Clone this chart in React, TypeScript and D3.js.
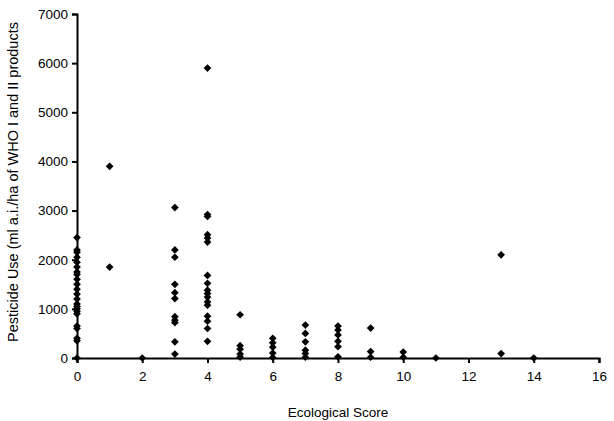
import { useEffect, useRef } from "react";
import * as d3 from "d3";

// ecological score per point, and pesticide use (ml a.i./ha)
const scoreCol0 = [2450, 2200, 2150, 2050, 1950, 1850, 1750, 1700, 1600, 1500, 1400, 1300, 1200, 1100, 1050, 1000, 950, 900, 650, 600, 400, 350, 0];
const scoreCol1 = [3900, 1850];
const scoreCol2 = [0];
const scoreCol3 = [3060, 2200, 2050, 1500, 1330, 1210, 840, 770, 720, 330, 80];
const scoreCol4 = [5900, 2920, 2880, 2510, 2440, 2360, 1680, 1520, 1380, 1310, 1240, 1140, 1075, 850, 750, 600, 340];
const scoreCol5 = [880, 250, 180, 80, 20];
const scoreCol6 = [400, 310, 220, 100, 10];
const scoreCol7 = [670, 500, 330, 160, 90, 15];
const scoreCol8 = [650, 570, 470, 340, 230, 25];
const scoreCol9 = [610, 130, 15];
const scoreCol10 = [120, 15];
const scoreCol11 = [0];
const scoreCol13 = [2100, 90];
const scoreCol14 = [0];

const columns: [number, number[]][] = [
  [0, scoreCol0], [1, scoreCol1], [2, scoreCol2], [3, scoreCol3], [4, scoreCol4],
  [5, scoreCol5], [6, scoreCol6], [7, scoreCol7], [8, scoreCol8], [9, scoreCol9],
  [10, scoreCol10], [11, scoreCol11], [13, scoreCol13], [14, scoreCol14],
];

const xTicks = [0, 2, 4, 6, 8, 10, 12, 14, 16];
const yTicks = [0, 1000, 2000, 3000, 4000, 5000, 6000, 7000];

export default function App() {
  const svgRef = useRef<SVGSVGElement | null>(null);

  useEffect(() => {
    const width = 614;
    const height = 421;
    const svg = d3.select(svgRef.current).attr("width", width).attr("height", height);
    svg.selectAll("*").remove();

    const x = d3.scaleLinear().domain([0, 16]).range([77, 599]);
    const y = d3.scaleLinear().domain([0, 7000]).range([358, 14]);

    const points = columns.flatMap(([s, vals]) => vals.map(v => ({ s, v })));

    const font = "Liberation Sans, Arial, sans-serif";

    const yAxis = svg.append("g")
      .attr("transform", `translate(${x(0)},0)`)
      .call(d3.axisLeft(y).tickValues(yTicks).tickSize(5).tickPadding(4).tickFormat(d3.format("d")));
    const xAxis = svg.append("g")
      .attr("transform", `translate(0,${y(0)})`)
      .call(d3.axisBottom(x).tickValues(xTicks).tickSize(5).tickPadding(8).tickFormat(d3.format("d")));

    [xAxis, yAxis].forEach(g => {
      g.select(".domain").attr("stroke", "#000").attr("stroke-width", 2);
      g.selectAll(".tick line").attr("stroke", "#000").attr("stroke-width", 2);
      g.selectAll(".tick text").attr("font-family", font).attr("font-size", 13.5).attr("fill", "#000");
    });

    svg.append("g")
      .selectAll("path")
      .data(points)
      .join("path")
      .attr("d", d3.symbol(d3.symbolDiamond2, 38))
      .attr("transform", d => `translate(${x(d.s)},${y(d.v)})`)
      .attr("fill", "#000");

    svg.append("text")
      .attr("x", 338)
      .attr("y", 417)
      .attr("text-anchor", "middle")
      .attr("font-family", font)
      .attr("font-size", 13.5)
      .text("Ecological Score");

    svg.append("text")
      .attr("transform", `translate(18,182) rotate(-90)`)
      .attr("text-anchor", "middle")
      .attr("font-family", font)
      .attr("font-size", 14.5)
      .text("Pesticide Use (ml a.i./ha of WHO I and II products");
  }, []);

  return (
    <div style={{ position: "absolute", left: 0, top: 0 }}>
      <svg ref={svgRef}></svg>
    </div>
  );
}
